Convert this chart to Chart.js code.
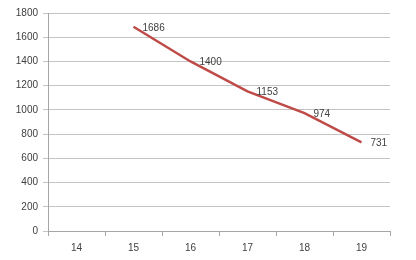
<!DOCTYPE html>
<html>
<head>
<meta charset="utf-8">
<script src="https://cdn.jsdelivr.net/npm/chart.js@4"></script>
<style>
  html, body { margin: 0; padding: 0; background: #fff; }
  #wrap { width: 416px; height: 260px; }
</style>
</head>
<body>
<div id="wrap"><canvas id="chart"></canvas></div>
<script>
const categories = ['14', '15', '16', '17', '18', '19'];
const values = [null, 1686, 1400, 1153, 974, 731];
const yTicks = [0, 200, 400, 600, 800, 1000, 1200, 1400, 1600, 1800];

const labelPlugin = {
  id: 'pointLabels',
  afterDatasetsDraw(chart) {
    const ctx = chart.ctx;
    const meta = chart.getDatasetMeta(0);
    ctx.save();
    ctx.font = '10px "Liberation Sans", Arial, sans-serif';
    ctx.fillStyle = '#404040';
    ctx.textAlign = 'left';
    ctx.textBaseline = 'middle';
    meta.data.forEach((pt, i) => {
      if (values[i] == null) return;
      ctx.fillText(String(values[i]), pt.x + 9, pt.y + 1);
    });
    ctx.restore();
  },
};

new Chart(document.getElementById('chart'), {
  type: 'line',
  data: {
    labels: categories,
    datasets: [{
      data: values,
      borderColor: '#be4b48',
      borderWidth: 2.5,
      pointRadius: 0,
      tension: 0,
      spanGaps: false,
    }],
  },
  options: {
    responsive: true,
    maintainAspectRatio: false,
    animation: false,
    layout: { padding: { top: 13, right: 26, left: 0, bottom: 0 } },
    plugins: { legend: { display: false }, tooltip: { enabled: false } },
    scales: {
      x: {
        offset: true,
        grid: { drawOnChartArea: false, color: '#a6a6a6', tickLength: 5, offset: true },
        border: { color: '#a6a6a6' },
        ticks: { color: '#404040', font: { family: '"Liberation Sans", Arial, sans-serif', size: 10 }, padding: 6, maxRotation: 0 },
        afterFit(scale) { scale.height = 29; },
      },
      y: {
        min: 0,
        max: 1800,
        afterBuildTicks(scale) { scale.ticks = yTicks.map((v) => ({ value: v })); },
        grid: { color: '#c4c4c4', tickLength: 5 },
        border: { color: '#a6a6a6' },
        ticks: {
          color: '#404040',
          font: { family: '"Liberation Sans", Arial, sans-serif', size: 10 },
          padding: 5,
          callback: (v) => String(v),
        },
        afterFit(scale) { scale.width = 48; },
      },
    },
  },
  plugins: [labelPlugin],
});
</script>
</body>
</html>
